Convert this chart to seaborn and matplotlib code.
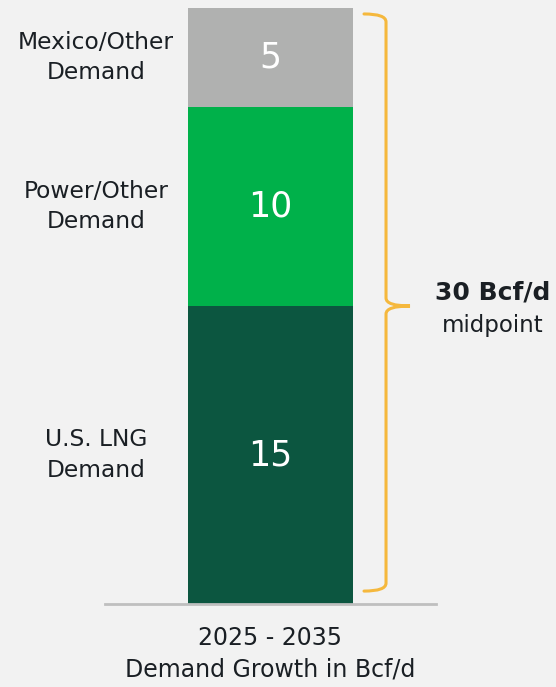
import matplotlib
matplotlib.use("Agg")
import matplotlib.pyplot as plt
import pandas as pd
import seaborn as sns
from matplotlib.path import Path
from matplotlib.patches import PathPatch

# data, bottom to top
segments = ["U.S. LNG\nDemand", "Power/Other\nDemand", "Mexico/Other\nDemand"]
values = [15, 10, 5]
colors = ["#0c5640", "#00b14a", "#b0b1b0"]
category = "2025 - 2035\nDemand Growth in Bcf/d"
total_label = "30 Bcf/d"
total_note = "midpoint"

BG = "#f2f2f2"
sns.set_theme(style="white")
plt.rcParams["font.family"] = ["DejaVu Sans"]
plt.rcParams["text.color"] = "#1a1f24"

fig = plt.figure(figsize=(5.56, 6.87), dpi=100, facecolor=BG)
ax = fig.add_axes([105 / 556, 83 / 687, 331 / 556, 596 / 687], facecolor=BG)

# stacked bar: draw cumulative totals from tallest to shortest
cum = pd.Series(values).cumsum().tolist()
for i in reversed(range(len(values))):
    df = pd.DataFrame({"period": [category], "value": [cum[i]]})
    sns.barplot(data=df, x="period", y="value", color=colors[i],
                width=0.5, saturation=1, linewidth=0, ax=ax)

ax.set_xlim(-0.5, 0.5)
ax.set_ylim(0, sum(values))

# value labels inside the bar and segment names on the left
bottom = 0
for name, val in zip(segments, values):
    mid = bottom + val / 2
    ax.text(0, mid, str(val), ha="center", va="center", color="white", fontsize=25)
    ax.text(-0.527, mid, name, ha="center", va="center", fontsize=16.8,
            linespacing=1.4, clip_on=False)
    bottom += val

# curly brace on the right
bx, hx, px = 0.349, 0.2825, 0.4215
top, bot, midy = 29.7, 0.65, sum(values) / 2
r = 0.4
verts = [(hx, top), (bx, top), (bx, top - r),
         (bx, midy + r), (bx, midy), (px, midy),
         (bx, midy), (bx, midy - r),
         (bx, bot + r), (bx, bot), (hx, bot)]
codes = [Path.MOVETO, Path.CURVE3, Path.CURVE3,
         Path.LINETO, Path.CURVE3, Path.CURVE3,
         Path.CURVE3, Path.CURVE3,
         Path.LINETO, Path.CURVE3, Path.CURVE3]
ax.add_patch(PathPatch(Path(verts, codes), fill=False, edgecolor="#f5b83d",
                       lw=2.2, clip_on=False, capstyle="round"))

ax.text(0.672, 15.7, total_label, ha="center", va="center", fontsize=18,
        fontweight="bold", clip_on=False)
ax.text(0.672, 14.0, total_note, ha="center", va="center", fontsize=16.5,
        clip_on=False)

# axes styling
sns.despine(ax=ax, left=True)
ax.spines["bottom"].set_color("#bfbfbf")
ax.spines["bottom"].set_linewidth(2)
ax.set_yticks([])
ax.set_xlabel("")
ax.set_ylabel("")
ax.tick_params(axis="x", length=0, pad=16, labelsize=17, labelcolor="#1a1f24")
for lbl in ax.get_xticklabels():
    lbl.set_linespacing(1.4)

fig.savefig("out.png", dpi=100, facecolor=BG)
